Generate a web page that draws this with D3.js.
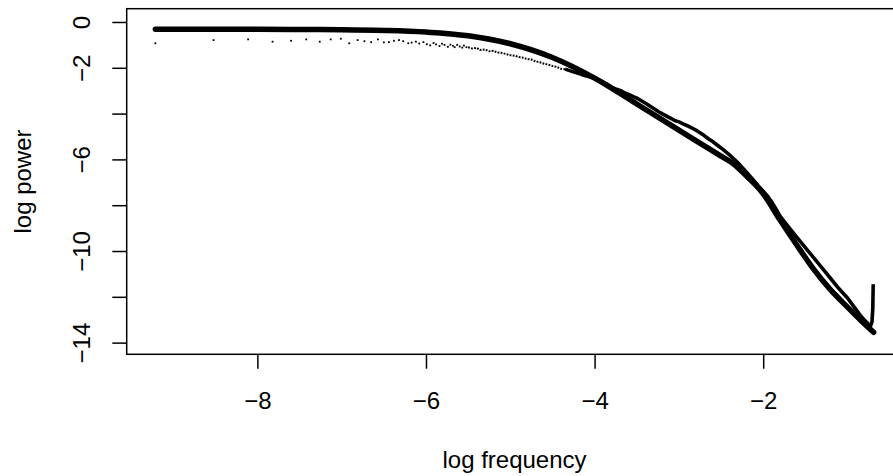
<!DOCTYPE html>
<html>
<head>
<meta charset="utf-8">
<script src="https://cdn.jsdelivr.net/npm/d3@7"></script>
<style>
  body{margin:0;background:#fff;}
  svg{display:block;font-family:"Liberation Sans",Arial,Helvetica,sans-serif;}
</style>
</head>
<body>
<div id="chart"></div>
<script>
// periodogram, low frequencies: one dot per Fourier frequency
const sparseLogFreq=[-9.21,-8.52,-8.11,-7.82,-7.60,-7.42,-7.26,-7.13,-7.01,-6.91,
  -6.81,-6.73,-6.65,-6.57,-6.50,-6.44,-6.38,-6.32,-6.27,-6.21,
  -6.17,-6.12,-6.08,-6.03,-5.99,-5.95,-5.91,-5.88,-5.84,-5.81,
  -5.78,-5.74,-5.71,-5.68,-5.66,-5.63,-5.60,-5.57,-5.55,-5.52];
const sparsePower=[-0.93,-0.79,-0.76,-0.86,-0.82,-0.76,-0.86,-0.76,-0.73,-0.93,
  -0.79,-0.84,-0.88,-0.76,-0.89,-0.88,-0.82,-0.79,-0.84,-0.93,
  -0.90,-0.86,-0.94,-0.88,-0.97,-1.02,-0.92,-0.98,-1.05,-0.95,
  -1.00,-1.08,-0.99,-1.04,-1.10,-1.00,-1.07,-1.12,-1.03,-1.10];

// periodogram, mid frequencies (dots start to touch)
const midLogFreq=[-5.50,-5.45,-5.40,-5.36,-5.30,-5.25,-5.20,-5.15,-5.10,-5.05,-5.00,-4.95,
  -4.90,-4.85,-4.80,-4.75,-4.70,-4.65,-4.60,-4.55,-4.50,-4.45,-4.40,-4.35];
const midPower=[-1.10,-1.16,-1.13,-1.22,-1.20,-1.28,-1.26,-1.33,-1.35,-1.40,-1.45,-1.47,
  -1.53,-1.56,-1.62,-1.64,-1.72,-1.76,-1.82,-1.86,-1.92,-1.96,-2.04,-2.06];

// periodogram, high frequencies (dense band)
const denseLogFreq=[-4.35,-4.25,-4.15,-4.05,-3.97,-3.90,-3.85,-3.80,-3.74,-3.69,-3.64,-3.59,
  -3.54,-3.49,-3.44,-3.39,-3.34,-3.29,-3.24,-3.19,-3.14,-3.10,-3.05,-3.00,
  -2.95,-2.90,-2.85,-2.80,-2.75,-2.70,-2.65,-2.60,-2.55,-2.50,-2.45,-2.40,
  -2.35,-2.30,-2.25,-2.20,-2.16,-2.11,-2.06,-2.01,-1.96,-1.90,-1.85,-1.80,
  -1.70,-1.60,-1.50,-1.40,-1.30,-1.20,-1.10,-1.00,-0.92,-0.85,-0.79,-0.75,
  -0.73,-0.71,-0.70,-0.695];
const densePower=[-2.06,-2.18,-2.30,-2.40,-2.50,-2.62,-2.72,-2.84,-2.94,-3.00,-3.10,-3.17,
  -3.26,-3.34,-3.45,-3.56,-3.68,-3.80,-3.92,-4.02,-4.12,-4.20,-4.30,-4.36,
  -4.45,-4.53,-4.62,-4.72,-4.84,-4.96,-5.10,-5.22,-5.36,-5.50,-5.65,-5.80,
  -5.97,-6.15,-6.35,-6.55,-6.72,-6.93,-7.15,-7.35,-7.55,-7.85,-8.15,-8.48,
  -8.95,-9.40,-9.85,-10.30,-10.75,-11.20,-11.65,-12.05,-12.45,-12.80,-13.05,-13.20,
  -13.30,-13.10,-12.50,-11.45];

// fitted spectrum (thick line)
const fitLogFreq=[-9.21,-8.5,-8.0,-7.5,-7.0,-6.5,-6.0,-5.5,-5.0,-4.5,-4.0,-3.5,
  -3.0,-2.5,-2.35,-2.2,-2.0,-1.8,-1.6,-1.4,-1.2,-1.0,-0.85,-0.69];
const fitPower=[-0.32,-0.32,-0.32,-0.33,-0.34,-0.37,-0.44,-0.60,-0.95,-1.55,-2.45,-3.58,
  -4.72,-5.86,-6.20,-6.72,-7.50,-8.65,-9.75,-10.80,-11.70,-12.45,-13.00,-13.55];

const xTicks=[-8,-6,-4,-2];
const yTicks=[0,-2,-4,-6,-8,-10,-12,-14];
const yLabelled=[0,-2,-6,-10,-14];

const W=893,H=476;
const m={left:126.7,top:8.7,right:902.3,bottom:354.3};
const fs=24;
const minus=v=>String(v).replace("-","\u2212");

const svg=d3.select("#chart").append("svg").attr("width",W).attr("height",H);
svg.append("rect").attr("width",W).attr("height",H).attr("fill","#fff");

const x=d3.scaleLinear().domain([-9.55,-0.35]).range([m.left,m.right]);
const y=d3.scaleLinear().domain([-14.51,0.58]).range([m.bottom,m.top]);

const zip=(a,b)=>a.map((v,i)=>[v,b[i]]);
const line=d3.line().x(d=>x(d[0])).y(d=>y(d[1]));

// periodogram
svg.append("g").selectAll("rect").data(zip(sparseLogFreq,sparsePower)).join("rect")
  .attr("x",d=>x(d[0])-0.9).attr("y",d=>y(d[1])-0.9)
  .attr("width",1.8).attr("height",1.8).attr("fill","#000");

svg.append("path").datum(zip(midLogFreq,midPower))
  .attr("d",line).attr("fill","none").attr("stroke","#000")
  .attr("stroke-width",2).attr("stroke-dasharray","1.8 1.3");

svg.append("path").datum(zip(denseLogFreq,densePower))
  .attr("d",line).attr("fill","none").attr("stroke","#000")
  .attr("stroke-width",3.6).attr("stroke-linejoin","round");

// fitted spectrum
svg.append("path").datum(zip(fitLogFreq,fitPower))
  .attr("d",line.curve(d3.curveMonotoneX)).attr("fill","none").attr("stroke","#000")
  .attr("stroke-width",5.5).attr("stroke-linecap","round").attr("stroke-linejoin","round");

// box
svg.append("rect").attr("x",m.left).attr("y",m.top)
  .attr("width",m.right-m.left).attr("height",m.bottom-m.top)
  .attr("fill","none").attr("stroke","#000").attr("stroke-width",1.5);

// x axis
svg.append("g").attr("transform",`translate(0,${m.bottom})`)
  .call(d3.axisBottom(x).tickValues(xTicks).tickSize(14.4).tickPadding(0).tickFormat(minus))
  .call(s=>s.select(".domain").remove())
  .call(s=>s.selectAll("line").attr("stroke","#000").attr("stroke-width",1.5))
  .call(s=>s.selectAll("text").attr("y",409-m.bottom).attr("dy",0)
    .attr("font-size",fs).attr("fill","#000").attr("font-family",null));

// y axis
svg.append("g").attr("transform",`translate(${m.left},0)`)
  .call(d3.axisLeft(y).tickValues(yTicks).tickSize(14.4).tickPadding(0)
    .tickFormat(v=>yLabelled.includes(v)?minus(v):""))
  .call(s=>s.select(".domain").remove())
  .call(s=>s.selectAll("line").attr("stroke","#000").attr("stroke-width",1.5))
  .call(s=>s.selectAll("text").attr("x",0).attr("dy",0)
    .attr("transform",`translate(${90-m.left},0) rotate(-90)`)
    .attr("text-anchor","middle").attr("font-size",fs).attr("fill","#000").attr("font-family",null));

// titles
svg.append("text").attr("x",(m.left+m.right)/2).attr("y",468)
  .attr("text-anchor","middle").attr("font-size",fs).text("log frequency");
svg.append("text").attr("transform",`translate(31,${(m.top+m.bottom)/2}) rotate(-90)`)
  .attr("text-anchor","middle").attr("font-size",fs).text("log power");
</script>
</body>
</html>
